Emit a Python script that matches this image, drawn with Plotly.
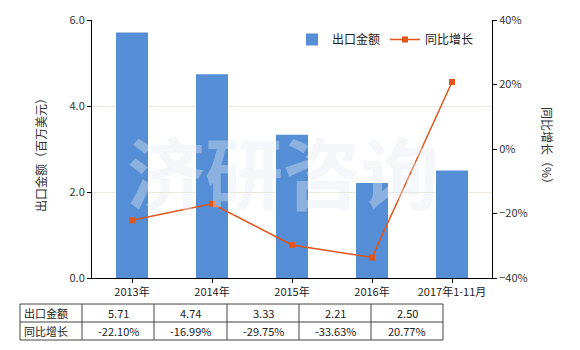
import plotly.graph_objects as go

categories = ["2013年", "2014年", "2015年", "2016年", "2017年1-11月"]
export_values = [5.71, 4.74, 3.33, 2.21, 2.50]
growth_values = [-22.10, -16.99, -29.75, -33.63, 20.77]
export_labels = ["5.71", "4.74", "3.33", "2.21", "2.50"]
growth_labels = ["-22.10%", "-16.99%", "-29.75%", "-33.63%", "20.77%"]
row_names = ["出口金额", "同比增长"]

W, H = 580, 350
L, R, T, B = 92, 492, 20, 278
FONT = "Noto Sans CJK SC, Microsoft YaHei, sans-serif"


def px(x):
    return (x - L) / (R - L)


def py(y):
    return (B - y) / (B - T)


BAR_COLOR = "#558ED5"
LINE_COLOR = "#E0561B"

fig = go.Figure()
fig.add_trace(go.Bar(
    x=categories, y=export_values, name="出口金额",
    marker=dict(color=BAR_COLOR, line=dict(width=0)), width=0.4,
    yaxis="y",
))
fig.add_trace(go.Scatter(
    x=categories, y=growth_values, name="同比增长", yaxis="y2",
    mode="lines+markers",
    line=dict(color=LINE_COLOR, width=1.5),
    marker=dict(symbol="square", size=6, color=LINE_COLOR),
))

shapes = []
annotations = []

# watermark
annotations.append(dict(
    text="<b>济研咨询</b>", x=px(283), y=py(170), xref="paper", yref="paper",
    xanchor="center", yanchor="middle",
    showarrow=False, font=dict(family=FONT, size=78, color="rgba(228,234,242,0.38)"),
))

# axis titles
annotations.append(dict(
    text="出口金额（百万美元）", x=px(40), y=py(152), xref="paper", yref="paper",
    xanchor="center", yanchor="middle",
    showarrow=False, textangle=-90, font=dict(family=FONT, size=12, color="#333"),
))
annotations.append(dict(
    text="同比增长（%）", x=px(548), y=py(148), xref="paper", yref="paper",
    xanchor="center", yanchor="middle",
    showarrow=False, textangle=90, font=dict(family=FONT, size=12, color="#333"),
))

# table
col_x = [20, 82, 154, 227, 299, 371, 443]
row_y = [304, 322, 340]
for yv in row_y:
    shapes.append(dict(type="line", xref="paper", yref="paper",
                       x0=px(col_x[0]), x1=px(col_x[-1]), y0=py(yv), y1=py(yv),
                       line=dict(color="#444", width=1)))
for xv in col_x:
    shapes.append(dict(type="line", xref="paper", yref="paper",
                       x0=px(xv), x1=px(xv), y0=py(row_y[0]), y1=py(row_y[-1]),
                       line=dict(color="#444", width=1)))
rows = [export_labels, growth_labels]
for r, (name, vals) in enumerate(zip(row_names, rows)):
    yc = (row_y[r] + row_y[r + 1]) / 2
    annotations.append(dict(
        text=name, x=px(col_x[0] + 2), y=py(yc), xref="paper", yref="paper",
        xanchor="left", yanchor="middle", showarrow=False,
        font=dict(family=FONT, size=11, color="#222"),
    ))
    for c, v in enumerate(vals):
        xc = (col_x[c + 1] + col_x[c + 2]) / 2
        annotations.append(dict(
            text=v, x=px(xc), y=py(yc), xref="paper", yref="paper",
            xanchor="center", yanchor="middle", showarrow=False,
            font=dict(family=FONT, size=11, color="#222"),
        ))

fig.update_layout(
    width=W, height=H,
    margin=dict(l=L, r=W - R, t=T, b=H - B, pad=0),
    paper_bgcolor="white", plot_bgcolor="white",
    font=dict(family=FONT, size=11, color="#333"),
    showlegend=True,
    legend=dict(orientation="h", x=px(292), y=py(25), xanchor="left", yanchor="top",
                font=dict(family=FONT, size=12, color="#222"), bgcolor="rgba(0,0,0,0)",
                itemwidth=30, traceorder="normal"),
    xaxis=dict(type="category", range=[-0.5, 4.5], showline=True, linecolor="#000",
               linewidth=1, ticks="outside", ticklen=4, tickcolor="#000",
               showgrid=False, tickfont=dict(size=11, color="#222")),
    yaxis=dict(range=[0, 6], dtick=2, tickformat=".1f", showline=True, linecolor="#000",
               linewidth=1, ticks="outside", ticklen=4, tickcolor="#000",
               showgrid=True, gridcolor="#ECE9D8", gridwidth=1, zeroline=False,
               tickfont=dict(size=11, color="#333")),
    yaxis2=dict(range=[-40, 40], dtick=20, ticksuffix="%", overlaying="y", side="right",
                showline=True, linecolor="#000", linewidth=1, ticks="outside", ticklen=4,
                tickcolor="#000", showgrid=False, zeroline=False,
                tickfont=dict(size=11, color="#333")),
    shapes=shapes, annotations=annotations,
    bargap=0.6,
)

fig.write_html("out.html")
